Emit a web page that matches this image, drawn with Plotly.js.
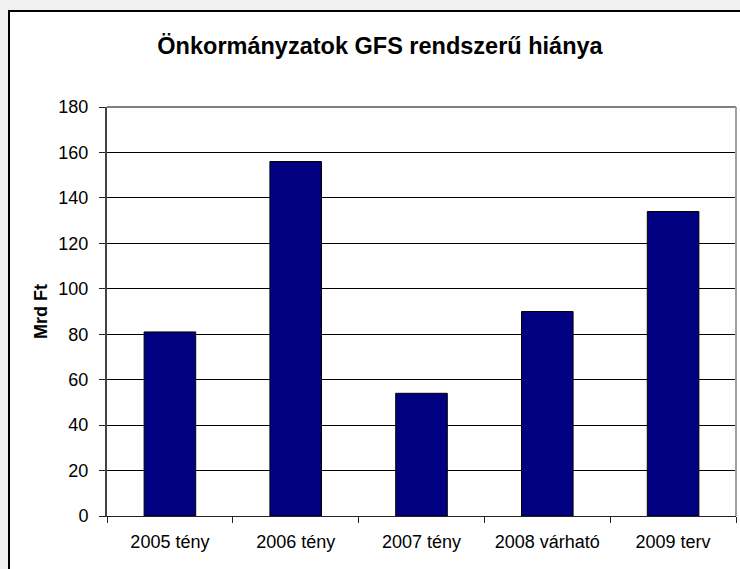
<!DOCTYPE html>
<html>
<head>
<meta charset="utf-8">
<script src="https://cdn.plot.ly/plotly-3.0.1.min.js"></script>
<style>
  html, body { margin: 0; padding: 0; width: 740px; height: 569px; overflow: hidden; background: #f0f0f0; }
  #frame { position: absolute; left: 8px; top: 10px; width: 800px; height: 700px; background: #ffffff; border: 2px solid #000; }
  #chart { position: absolute; left: 0; top: 0; width: 740px; height: 569px; }
</style>
</head>
<body>
<div id="frame"></div>
<div id="chart"></div>
<script>
const categories = ['2005 tény', '2006 tény', '2007 tény', '2008 várható', '2009 terv'];
const values = [81, 156, 54, 90, 134];
const yTicks = [0, 20, 40, 60, 80, 100, 120, 140, 160, 180];
const chartTitle = 'Önkormányzatok GFS rendszerű hiánya';
const yTitle = 'Mrd Ft';

const FONT = '"Liberation Sans", Arial, sans-serif';

const trace = {
  type: 'bar',
  x: categories,
  y: values,
  marker: { color: '#000080', line: { color: '#000000', width: 1 } },
  hoverinfo: 'x+y'
};

const layout = {
  width: 740,
  height: 569,
  margin: { l: 107, r: 4, t: 107, b: 53, pad: 0 },
  paper_bgcolor: 'rgba(0,0,0,0)',
  plot_bgcolor: '#ffffff',
  showlegend: false,
  bargap: 0.59,
  font: { family: FONT, size: 18, color: '#000' },
  title: {
    text: '<b>' + chartTitle + '</b>',
    font: { family: FONT, size: 23.5, color: '#000' },
    xref: 'container', yref: 'container',
    x: 380 / 740, xanchor: 'center',
    y: 1 - 46 / 569, yanchor: 'middle'
  },
  xaxis: {
    type: 'category',
    showgrid: false,
    showline: true,
    linecolor: '#222',
    linewidth: 1,
    ticks: 'outside',
    tickson: 'boundaries',
    ticklen: 6,
    tickcolor: '#222',
    tickfont: { family: FONT, size: 18, color: '#000' },
    ticklabelstandoff: 9,
    zeroline: false,
    fixedrange: true
  },
  yaxis: {
    range: [0, 180],
    tickvals: yTicks,
    showgrid: true,
    gridcolor: '#000',
    gridwidth: 1,
    showline: true,
    linecolor: '#444',
    linewidth: 2,
    ticks: 'outside',
    ticklen: 6,
    tickcolor: '#222',
    tickfont: { family: FONT, size: 18, color: '#000' },
    ticklabelstandoff: 7,
    zeroline: false,
    fixedrange: true,
    title: {
      text: '<b>' + yTitle + '</b>',
      font: { family: FONT, size: 18, color: '#000' },
      standoff: 6
    }
  },
  shapes: [
    { type: 'line', xref: 'paper', yref: 'paper', x0: 0, x1: 1, y0: 1, y1: 1, line: { color: '#808080', width: 2 }, layer: 'above' },
    { type: 'line', xref: 'paper', yref: 'paper', x0: 1, x1: 1, y0: 0, y1: 1, line: { color: '#a0a0a0', width: 2 }, layer: 'above' }
  ]
};

Plotly.newPlot('chart', [trace], layout, { displayModeBar: false, staticPlot: true });
</script>
</body>
</html>
